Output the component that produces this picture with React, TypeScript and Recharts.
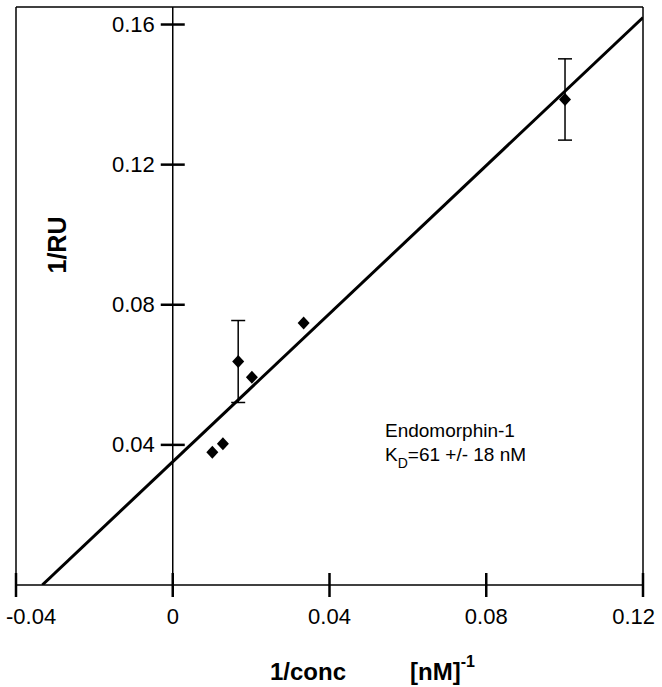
import {
  ComposedChart,
  Scatter,
  Line,
  XAxis,
  YAxis,
  ReferenceLine,
  ReferenceDot,
  ErrorBar,
} from "recharts";

// 1/conc [nM^-1] and 1/RU
const concInv = [0.0101, 0.0128, 0.0167, 0.0202, 0.0334, 0.1001];
const ruInv = [0.0379, 0.0403, 0.0638, 0.0593, 0.0748, 0.1386];
const ruErr = [0, 0, 0.0117, 0, 0, 0.0116];

// fitted line end points
const fitX = [-0.0333, 0.12];
const fitY = [0, 0.162];

const xTicks = [-0.04, 0, 0.04, 0.08, 0.12];
const yTicks = [0.04, 0.08, 0.12, 0.16];
const yMax = 0.165;

const FONT = '"Liberation Sans", Arial, Helvetica, sans-serif';

const plain = concInv
  .map((x, i) => ({ x, y: ruInv[i], err: ruErr[i] }))
  .filter((d) => !d.err);
const withErr = concInv
  .map((x, i) => ({ x, y: ruInv[i], err: ruErr[i] }))
  .filter((d) => d.err);
const fitData = fitX.map((x, i) => ({ x, y: fitY[i] }));

const Diamond = (props: any) => {
  const { cx, cy } = props;
  if (cx == null || cy == null) return null;
  const w = 6;
  const h = 6.5;
  return (
    <polygon
      points={`${cx},${cy - h} ${cx + w},${cy} ${cx},${cy + h} ${cx - w},${cy}`}
      fill="#000"
    />
  );
};

const XTickMark = (props: any) => {
  const { cx, cy } = props;
  return <line x1={cx} y1={cy - 12} x2={cx} y2={cy + 12} stroke="#000" strokeWidth={2.5} />;
};

const YTickMark = (props: any) => {
  const { cx, cy, label } = props;
  return (
    <g>
      <line x1={cx - 12} y1={cy} x2={cx + 12} y2={cy} stroke="#000" strokeWidth={2.5} />
      <text
        x={cx - 18}
        y={cy}
        textAnchor="end"
        dominantBaseline="central"
        fontSize={22}
        fontFamily={FONT}
        fill="#000"
      >
        {label}
      </text>
    </g>
  );
};

const XTickLabel = (props: any) => {
  const { x, y, payload, index } = props;
  let anchor: "start" | "middle" | "end" = "middle";
  let dx = 0;
  if (index === 0) {
    anchor = "start";
    dx = -10;
  } else if (index === xTicks.length - 1) {
    anchor = "end";
    dx = 12;
  }
  return (
    <text
      x={x + dx}
      y={y}
      dy="0.71em"
      textAnchor={anchor}
      fontSize={22}
      fontFamily={FONT}
      fill="#000"
    >
      {String(payload.value)}
    </text>
  );
};

export default function App() {
  return (
    <div style={{ position: "absolute", left: 0, top: 0, width: 662, height: 687, background: "#fff" }}>
      <ComposedChart
        width={662}
        height={687}
        margin={{ top: 7, right: 19, bottom: 42, left: 16 }}
      >
        <XAxis
          type="number"
          dataKey="x"
          domain={[-0.04, 0.12]}
          ticks={xTicks}
          interval={0}
          allowDataOverflow
          height={60}
          axisLine={{ stroke: "#000", strokeWidth: 1.5 }}
          tickLine={false}
          tickSize={12}
          tickMargin={11}
          tick={<XTickLabel />}
        />
        <YAxis type="number" dataKey="y" domain={[0, yMax]} allowDataOverflow hide />

        <ReferenceLine x={-0.04} stroke="#000" strokeWidth={1.5} />
        <ReferenceLine x={0.12} stroke="#000" strokeWidth={1.5} />
        <ReferenceLine y={yMax} stroke="#000" strokeWidth={1.5} />
        <ReferenceLine x={0} stroke="#000" strokeWidth={1.5} />

        {xTicks.map((t) => (
          <ReferenceDot key={`xt${t}`} x={t} y={0} r={0} shape={<XTickMark />} />
        ))}
        {yTicks.map((t) => (
          <ReferenceDot key={`yt${t}`} x={0} y={t} r={0} shape={<YTickMark label={String(t)} />} />
        ))}

        <Line
          data={fitData}
          dataKey="y"
          type="linear"
          stroke="#000"
          strokeWidth={3}
          dot={false}
          activeDot={false}
          isAnimationActive={false}
        />
        <Scatter data={plain} dataKey="y" shape={<Diamond />} isAnimationActive={false} />
        <Scatter data={withErr} dataKey="y" shape={<Diamond />} isAnimationActive={false}>
          <ErrorBar dataKey="err" direction="y" width={7} stroke="#000" strokeWidth={1.5} />
        </Scatter>
      </ComposedChart>

      <svg
        width={662}
        height={687}
        style={{ position: "absolute", left: 0, top: 0, pointerEvents: "none" }}
      >
        <text
          transform="translate(66,245) rotate(-90)"
          textAnchor="middle"
          fontSize={25}
          fontWeight="bold"
          fontFamily={FONT}
          fill="#000"
        >
          1/RU
        </text>
        <text x={270} y={680} fontSize={24} fontWeight="bold" fontFamily={FONT} fill="#000">
          1/conc
        </text>
        <text x={410} y={680} fontSize={24} fontWeight="bold" fontFamily={FONT} fill="#000">
          [nM]
          <tspan fontSize={16} dy={-13}>-1</tspan>
        </text>
        <text x={385} y={437} fontSize={19} fontFamily={FONT} fill="#000">
          Endomorphin-1
        </text>
        <text x={385} y={461} fontSize={19} fontFamily={FONT} fill="#000">
          K
          <tspan fontSize={14} dy={7}>D</tspan>
          <tspan dy={-7}>=61 +/- 18 nM</tspan>
        </text>
      </svg>
    </div>
  );
}
